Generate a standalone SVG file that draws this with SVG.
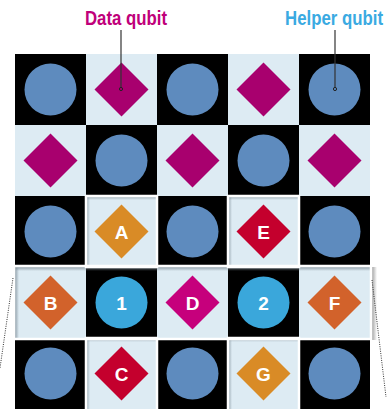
<svg xmlns="http://www.w3.org/2000/svg" width="392" height="409" viewBox="0 0 392 409">
<defs>
<linearGradient id="shL" x1="0" y1="0" x2="1" y2="0"><stop offset="0" stop-color="#7d8c96" stop-opacity="0.8"/><stop offset="1" stop-color="#7d8c96" stop-opacity="0"/></linearGradient>
<linearGradient id="shT" x1="0" y1="0" x2="0" y2="1"><stop offset="0" stop-color="#7d8c96" stop-opacity="0.8"/><stop offset="1" stop-color="#7d8c96" stop-opacity="0"/></linearGradient>
<linearGradient id="shR" x1="0" y1="0" x2="1" y2="0"><stop offset="0" stop-color="#666" stop-opacity="0.6"/><stop offset="1" stop-color="#666" stop-opacity="0"/></linearGradient>
<style>
.dk{fill:#000}
.lt{fill:#ddebf3}
.q{fill:#5e8bbe}
.qb{fill:#3aa7db}
.dm{fill:#a8006e}
.dd{fill:#c6007c}
.go{fill:#d98b26}
.rd{fill:#c4002d}
.or{fill:#d2622b}
.lb{font-family:"Liberation Sans Narrow","Liberation Sans",Arial,sans-serif;font-weight:bold;font-size:19px;fill:#fff;text-anchor:middle}
.hdr{font-family:"Liberation Sans Narrow","Liberation Sans",Arial,sans-serif;font-weight:bold;font-size:21px;text-anchor:middle}
.frame{fill:none;stroke:#fff;stroke-width:2.5}
.lead{stroke:#333;stroke-width:1.2;fill:none}
.dot{stroke:#333;stroke-width:1;stroke-dasharray:1 1.3;fill:none}
</style>
</defs>
<g id="board">
<rect class="dk" x="15" y="54" width="355" height="355"/>
<rect class="lt" x="86" y="54" width="71" height="71"/><rect class="lt" x="228" y="54" width="71" height="71"/>
<rect class="lt" x="15" y="125" width="71" height="71"/><rect class="lt" x="157" y="125" width="71" height="71"/><rect class="lt" x="299" y="125" width="71" height="71"/>
<rect class="lt" x="86" y="196" width="71" height="71"/><rect class="lt" x="228" y="196" width="71" height="71"/>
<rect class="lt" x="15" y="267" width="71" height="71"/><rect class="lt" x="157" y="267" width="71" height="71"/><rect class="lt" x="299" y="267" width="71" height="71"/>
<rect class="lt" x="86" y="338" width="71" height="71"/><rect class="lt" x="228" y="338" width="71" height="71"/>
</g>
<g id="highlights">
<rect x="372" y="267" width="5" height="73" fill="url(#shR)"/>
<rect x="15" y="267" width="4" height="71" fill="url(#shL)"/><rect x="15" y="267" width="355" height="4" fill="url(#shT)"/>
<rect x="86" y="196" width="4" height="71" fill="url(#shL)"/><rect x="86" y="196" width="71" height="4" fill="url(#shT)"/>
<rect x="228" y="196" width="4" height="71" fill="url(#shL)"/><rect x="228" y="196" width="71" height="4" fill="url(#shT)"/>
<rect x="86" y="338" width="4" height="71" fill="url(#shL)"/><rect x="86" y="338" width="71" height="4" fill="url(#shT)"/>
<rect x="228" y="338" width="4" height="71" fill="url(#shL)"/><rect x="228" y="338" width="71" height="4" fill="url(#shT)"/>
<rect class="frame" x="86" y="196" width="71" height="71"/>
<rect class="frame" x="228" y="196" width="71" height="71"/>
<rect class="frame" x="86" y="338" width="71" height="73"/>
<rect class="frame" x="228" y="338" width="71" height="73"/>
<rect class="frame" x="14" y="266" width="357" height="73"/>
</g>
<g id="helpers">
<circle class="q" cx="50.5" cy="89.5" r="26"/><circle class="q" cx="192.5" cy="89.5" r="26"/><circle class="q" cx="334.5" cy="89.5" r="26"/>
<circle class="q" cx="121.5" cy="160.5" r="26"/><circle class="q" cx="263.5" cy="160.5" r="26"/>
<circle class="q" cx="50.5" cy="231.5" r="26"/><circle class="q" cx="192.5" cy="231.5" r="26"/><circle class="q" cx="334.5" cy="231.5" r="26"/>
<circle class="q" cx="50.5" cy="373.5" r="26"/><circle class="q" cx="192.5" cy="373.5" r="26"/><circle class="q" cx="334.5" cy="373.5" r="26"/>
</g>
<g id="data">
<polygon class="dm" points="121.5,62.5 148.5,89.5 121.5,116.5 94.5,89.5"/>
<polygon class="dm" points="263.5,62.5 290.5,89.5 263.5,116.5 236.5,89.5"/>
<polygon class="dm" points="50.5,133.5 77.5,160.5 50.5,187.5 23.5,160.5"/>
<polygon class="dm" points="192.5,133.5 219.5,160.5 192.5,187.5 165.5,160.5"/>
<polygon class="dm" points="334.5,133.5 361.5,160.5 334.5,187.5 307.5,160.5"/>
</g>
<g id="node-A"><polygon class="go" points="121.5,204.5 148.5,231.5 121.5,258.5 94.5,231.5"/><text class="lb" x="121.5" y="238.5">A</text></g>
<g id="node-E"><polygon class="rd" points="263.5,204.5 290.5,231.5 263.5,258.5 236.5,231.5"/><text class="lb" x="263.5" y="238.5">E</text></g>
<g id="node-B"><polygon class="or" points="50.5,275.5 77.5,302.5 50.5,329.5 23.5,302.5"/><text class="lb" x="50.5" y="309.5">B</text></g>
<g id="node-1"><circle class="qb" cx="121.5" cy="302.5" r="26"/><text class="lb" x="121.5" y="309.5">1</text></g>
<g id="node-D"><polygon class="dd" points="192.5,275.5 219.5,302.5 192.5,329.5 165.5,302.5"/><text class="lb" x="192.5" y="309.5">D</text></g>
<g id="node-2"><circle class="qb" cx="263.5" cy="302.5" r="26"/><text class="lb" x="263.5" y="309.5">2</text></g>
<g id="node-F"><polygon class="or" points="334.5,275.5 361.5,302.5 334.5,329.5 307.5,302.5"/><text class="lb" x="334.5" y="309.5">F</text></g>
<g id="node-C"><polygon class="rd" points="121.5,346.5 148.5,373.5 121.5,400.5 94.5,373.5"/><text class="lb" x="121.5" y="380.5">C</text></g>
<g id="node-G"><polygon class="go" points="263.5,346.5 290.5,373.5 263.5,400.5 236.5,373.5"/><text class="lb" x="263.5" y="380.5">G</text></g>
<g id="labels">
<text class="hdr" x="126" y="25" fill="#c0007a" textLength="82" lengthAdjust="spacingAndGlyphs">Data qubit</text>
<text class="hdr" x="334" y="25" fill="#3aaae2" textLength="98" lengthAdjust="spacingAndGlyphs">Helper qubit</text>
</g>
<g id="connectors">
<line class="lead" x1="121" y1="30" x2="121" y2="87.5"/><circle cx="121" cy="89" r="1.6" fill="none" stroke="#222" stroke-width="1"/>
<line class="lead" x1="335" y1="30" x2="335" y2="87.5"/><circle cx="335" cy="89" r="1.6" fill="none" stroke="#222" stroke-width="1"/>
<line class="dot" x1="13" y1="278" x2="0" y2="368"/>
<line class="dot" x1="372" y1="280" x2="386" y2="397"/>
</g>
</svg>
